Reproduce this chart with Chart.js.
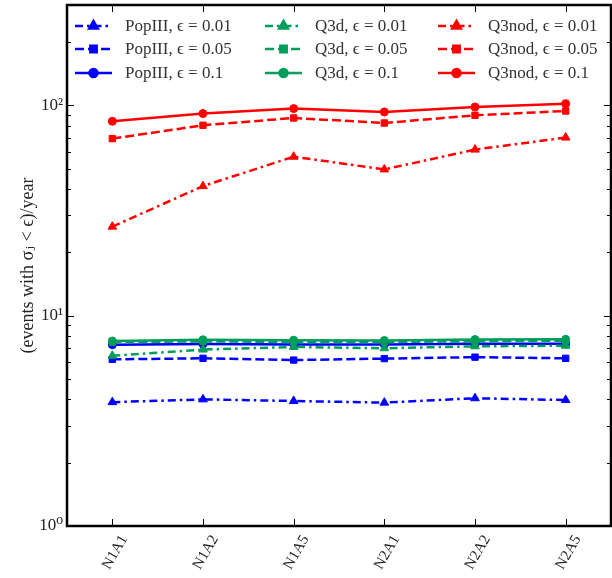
<!DOCTYPE html>
<html>
<head>
<meta charset="utf-8">
<script src="https://cdn.jsdelivr.net/npm/chart.js@4/dist/chart.umd.min.js"></script>
<style>
  html, body { margin: 0; padding: 0; background: #fff; }
  #wrap { width: 612px; height: 578px; }
</style>
</head>
<body>
<div id="wrap"><canvas id="rates"></canvas></div>
<script>
const models = ["N1A1", "N1A2", "N1A5", "N2A1", "N2A2", "N2A5"];

const popIII_001 = [3.88, 4.0, 3.93, 3.86, 4.05, 3.97];
const popIII_005 = [6.2, 6.27, 6.15, 6.25, 6.35, 6.27];
const popIII_01 = [7.28, 7.33, 7.3, 7.3, 7.35, 7.35];

const q3d_001 = [6.45, 6.9, 7.1, 7.0, 7.15, 7.2];
const q3d_005 = [7.48, 7.55, 7.5, 7.5, 7.55, 7.6];
const q3d_01 = [7.58, 7.68, 7.65, 7.62, 7.7, 7.72];

const q3nod_001 = [26.5, 41.3, 57.0, 49.6, 61.6, 70.3];
const q3nod_005 = [69.5, 80.4, 87.1, 82.4, 89.7, 94.0];
const q3nod_01 = [84.0, 91.4, 96.5, 93.0, 98.2, 101.9];

const yTickLabels = { 1: "10\u2070", 10: "10\u00b9", 100: "10\u00b2" };

const BLUE = "#0000ff";
const GREEN = "#009e5a";
const RED = "#ff0000";
const SERIF = "'Liberation Serif', 'DejaVu Serif', serif";

// line style per epsilon: dash-dot + triangle, dashed + square, solid + circle
const styles = {
    "0.01": { dash: [8, 4, 2.5, 4], point: "triangle", radius: 5 },
    "0.05": { dash: [9, 4], point: "rect", radius: 4.5 },
    "0.1": { dash: [], point: "circle", radius: 4 },
};

const series = [
    ["PopIII", "0.01", BLUE, popIII_001],
    ["PopIII", "0.05", BLUE, popIII_005],
    ["PopIII", "0.1", BLUE, popIII_01],
    ["Q3d", "0.01", GREEN, q3d_001],
    ["Q3d", "0.05", GREEN, q3d_005],
    ["Q3d", "0.1", GREEN, q3d_01],
    ["Q3nod", "0.01", RED, q3nod_001],
    ["Q3nod", "0.05", RED, q3nod_005],
    ["Q3nod", "0.1", RED, q3nod_01],
];

const datasets = series.map(([model, eps, color, values], i) => {
    const s = styles[eps];
    return {
        label: `${model}, \u03f5 = ${eps}`,
        data: values,
        borderColor: color,
        backgroundColor: color,
        borderWidth: 2.5,
        borderDash: s.dash,
        pointStyle: s.point,
        pointRadius: s.radius,
        pointBorderWidth: 1,
        tension: 0,
        order: series.length - i,
    };
});

// legend drawn inside the axes, three columns (one per model)
const innerLegend = {
    id: "innerLegend",
    afterDraw(chart) {
        const { ctx, chartArea } = chart;
        const colX = [58, 248, 421];
        const rowY = [21, 44, 68];
        ctx.save();
        ctx.font = `17px ${SERIF}`;
        ctx.textBaseline = "middle";
        datasets.forEach((ds, i) => {
            const col = Math.floor(i / 3);
            const row = i % 3;
            const tx = chartArea.left + colX[col];
            const ty = chartArea.top + rowY[row];
            const x0 = tx - 50;
            const x1 = tx - 13;
            ctx.strokeStyle = ds.borderColor;
            ctx.lineWidth = 2.5;
            ctx.setLineDash(ds.borderDash);
            ctx.beginPath();
            ctx.moveTo(x0, ty);
            ctx.lineTo(x1, ty);
            ctx.stroke();
            ctx.setLineDash([]);
            Chart.helpers.drawPoint(ctx, {
                pointStyle: ds.pointStyle,
                radius: ds.pointRadius,
                rotation: 0,
                borderWidth: 1,
            }, (x0 + x1) / 2, ty);
            ctx.fillStyle = ds.borderColor;
            ctx.fill();
            ctx.fillStyle = "#333";
            ctx.fillText(ds.label, tx, ty + 1);
        });
        ctx.restore();
    },
};

// full box with inward ticks on all four sides
const frameTicks = {
    id: "frameTicks",
    afterDraw(chart) {
        const { ctx, chartArea: a, scales } = chart;
        ctx.save();
        ctx.strokeStyle = "#000";
        ctx.lineWidth = 1;
        ctx.beginPath();
        scales.x.ticks.forEach((t, i) => {
            const px = Math.round(scales.x.getPixelForTick(i)) + 0.5;
            ctx.moveTo(px, a.bottom);
            ctx.lineTo(px, a.bottom - 7);
            ctx.moveTo(px, a.top);
            ctx.lineTo(px, a.top + 7);
        });
        for (let dec = 1; dec <= 100; dec *= 10) {
            for (let m = 1; m <= 9; m++) {
                const v = dec * m;
                if (v > scales.y.max) break;
                const py = Math.round(scales.y.getPixelForValue(v)) + 0.5;
                const len = m === 1 ? 7 : 4;
                ctx.moveTo(a.left, py);
                ctx.lineTo(a.left + len, py);
                ctx.moveTo(a.right, py);
                ctx.lineTo(a.right - len, py);
            }
        }
        ctx.stroke();
        ctx.lineWidth = 2.5;
        ctx.strokeRect(a.left, a.top, a.right - a.left, a.bottom - a.top);
        ctx.restore();
    },
};

new Chart(document.getElementById("rates"), {
    type: "line",
    data: { labels: models, datasets: datasets },
    plugins: [frameTicks, innerLegend],
    options: {
        responsive: true,
        maintainAspectRatio: false,
        animation: false,
        layout: { autoPadding: false, padding: { top: 5, right: 1, left: 0, bottom: 0 } },
        plugins: {
            legend: { display: false },
            tooltip: { enabled: false },
        },
        scales: {
            x: {
                offset: true,
                grid: { display: false, drawTicks: false },
                border: { display: false },
                ticks: {
                    color: "#222",
                    font: { family: SERIF, size: 15 },
                    minRotation: 60,
                    maxRotation: 60,
                    labelOffset: 12,
                    padding: 6,
                    autoSkip: false,
                },
                afterFit(scale) {
                    scale.height = 52;
                    scale.paddingLeft = 0;
                    scale.paddingRight = 0;
                },
            },
            y: {
                type: "logarithmic",
                min: 1,
                max: 300,
                grid: { display: false, drawTicks: false },
                border: { display: false },
                ticks: {
                    color: "#222",
                    font: { family: SERIF, size: 17 },
                    padding: 4,
                    autoSkip: false,
                    callback: (v) => yTickLabels[v] || "",
                },
                title: {
                    display: true,
                    text: "(events with \u03c3\u2c7c < \u03f5)/year",
                    color: "#222",
                    font: { family: SERIF, size: 18 },
                    padding: { top: 17, bottom: 0 },
                },
                afterFit(scale) {
                    scale.width = 67;
                    scale.paddingTop = 0;
                    scale.paddingBottom = 0;
                },
            },
        },
    },
});
</script>
</body>
</html>
